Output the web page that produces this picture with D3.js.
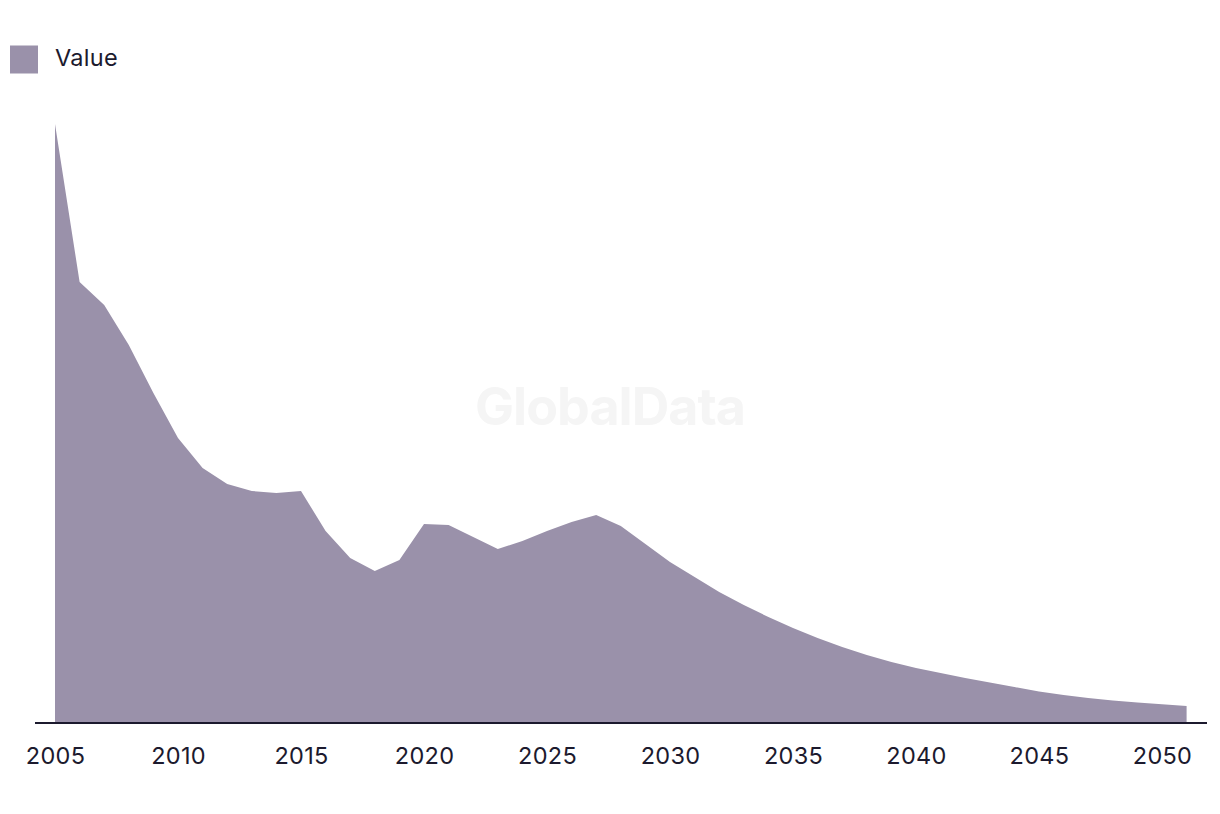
<!DOCTYPE html>
<html>
<head>
<meta charset="utf-8">
<script src="https://cdn.jsdelivr.net/npm/d3@7"></script>
<style>
  html, body { margin: 0; padding: 0; background: #ffffff; }
  svg { display: block; }
</style>
</head>
<body>
<div id="chart"></div>
<script>
const years = [2005,2006,2007,2008,2009,2010,2011,2012,2013,2014,2015,2016,2017,2018,2019,2020,2021,2022,2023,2024,2025,2026,2027,2028,2029,2030,2031,2032,2033,2034,2035,2036,2037,2038,2039,2040,2041,2042,2043,2044,2045,2046,2047,2048,2049,2050,2051];
const values = [599,441,418,378,330,285,255,239,232,230,232,192,165,152,163,199,198,186,174,182,192,201,208,197,179,161,146,131,118,106,95,85,76,68,61,55,50,45,40.5,36,31.5,28,25,22.5,20.5,18.8,17];
const tickYears = [2005,2010,2015,2020,2025,2030,2035,2040,2045,2050];
const seriesName = "Value";
const watermark = "GlobalData";

const W = 1220, H = 814;
const fill = "#9a91aa";
const ink = "#1c1a2e";
const font = "Inter, 'Noto Sans', sans-serif";

const svg = d3.select("#chart").append("svg").attr("width", W).attr("height", H);

const x = d3.scaleLinear().domain([2005, 2050]).range([55, 1162]);
const y = d3.scaleLinear().domain([0, 600]).range([723, 123]);

// watermark
svg.append("text")
  .attr("x", 610).attr("y", 425)
  .attr("text-anchor", "middle")
  .attr("font-family", font).attr("font-weight", 700)
  .attr("font-size", 52).attr("fill", "#f5f5f5")
  .attr("letter-spacing", -1)
  .text(watermark);

const data = years.map((yr, i) => ({yr, v: values[i]}));
const area = d3.area().x(d => x(d.yr)).y0(y(0)).y1(d => y(d.v));
svg.append("path").datum(data).attr("d", area).attr("fill", fill);

// axis line
svg.append("line").attr("x1", 35).attr("x2", 1207).attr("y1", 723).attr("y2", 723)
  .attr("stroke", ink).attr("stroke-width", 2);

const axis = d3.axisBottom(x).tickValues(tickYears).tickFormat(d3.format("d")).tickSize(0).tickPadding(0);
const g = svg.append("g").attr("transform", "translate(0,723)").call(axis);
g.select(".domain").remove();
g.selectAll("text")
  .attr("font-family", font).attr("font-size", 23.5).attr("fill", ink)
  .attr("letter-spacing", 0.3)
  .attr("dy", null).attr("y", 41);

// legend
svg.append("rect").attr("x", 10).attr("y", 45.5).attr("width", 28).attr("height", 28).attr("fill", fill);
svg.append("text").attr("x", 55).attr("y", 66)
  .attr("font-family", font).attr("font-size", 23.5).attr("fill", ink)
  .attr("letter-spacing", 0.3)
  .text(seriesName);
</script>
</body>
</html>
